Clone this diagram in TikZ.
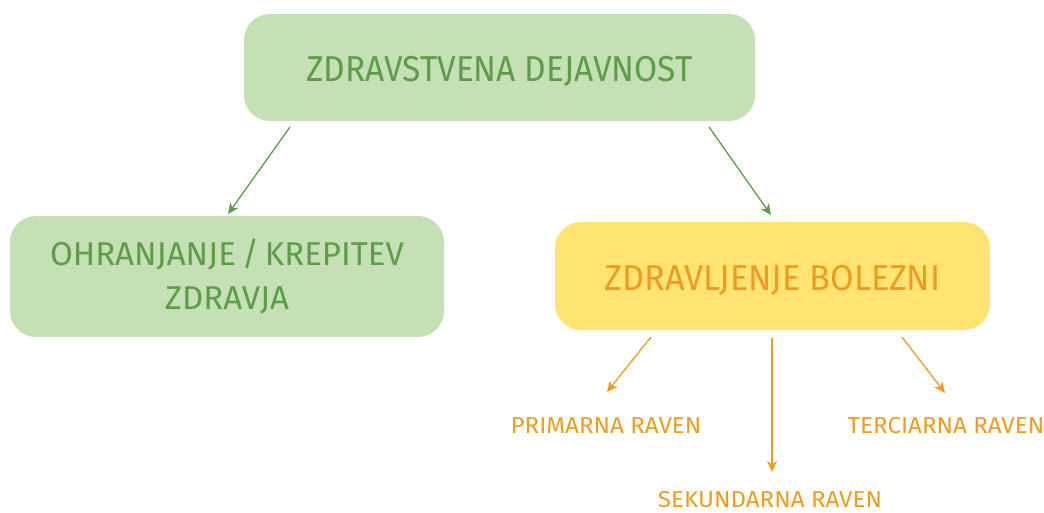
\documentclass[tikz,border=0pt]{standalone}
\usepackage{fontspec}
\setmainfont{Fira Sans}
\newfontfamily\fTop{Fira Sans}[FakeStretch=0.93]
\newfontfamily\fLeft{Fira Sans}[FakeStretch=1.0]
\newfontfamily\fRight{Fira Sans}[FakeStretch=0.95]
\newfontfamily\fLbl{Fira Sans}[FakeStretch=1.05]
\usetikzlibrary{arrows.meta}
\definecolor{gfill}{HTML}{C5E0B4}
\definecolor{gtext}{HTML}{5E9C4A}
\definecolor{yfill}{HTML}{FFE474}
\definecolor{otext}{HTML}{EE9B22}
\tikzset{
  box/.style={rounded corners=26pt, inner sep=0pt, align=center},
  gbox/.style={box, fill=gfill, text=gtext},
  ybox/.style={box, fill=yfill, text=otext},
  garrow/.style={draw=gtext, line width=1.3pt, -{Stealth[length=11pt,width=10pt,inset=3.5pt]}},
  oarrow/.style={draw=otext, line width=1.3pt, -{Stealth[length=11pt,width=10pt,inset=3.5pt]}},
  lbl/.style={text=otext, font=\fLbl\fontsize{23}{27}\selectfont, inner sep=0pt}
}
\begin{document}
\begin{tikzpicture}[x=1pt,y=-1pt]
\useasboundingbox (0,0) rectangle (1044,513);
\node[gbox, minimum width=511pt, minimum height=107pt, text height=29pt, text depth=0pt, font=\fTop\fontsize{36}{40}\selectfont] (top) at (499.5,67.5) {ZDRAVSTVENA DEJAVNOST};
\node[gbox, minimum width=434pt, minimum height=121pt, font=\fLeft\fontsize{33}{43.5}\selectfont] (left) at (227,276.5) {OHRANJANJE\hspace{0.18em}/\hspace{0.18em}KREPITEV\\ZDRAVJA};
\node[ybox, minimum width=435pt, minimum height=108pt, text height=28pt, text depth=0pt, font=\fRight\fontsize{36}{40}\selectfont] (right) at (772.5,276) {ZDRAVLJENJE BOLEZNI};
\node[lbl] (prim) at (606,426) {PRIMARNA RAVEN};
\node[lbl] (sek) at (770,500) {SEKUNDARNA RAVEN};
\node[lbl] (terc) at (946,426) {TERCIARNA RAVEN};
\coordinate (a1s) at (290,127); \coordinate (a1e) at (228,214);
\coordinate (a2s) at (709,127); \coordinate (a2e) at (771,215);
\coordinate (b1s) at (651,337); \coordinate (b1e) at (607,392);
\coordinate (b2s) at (772,338); \coordinate (b2e) at (772,472);
\coordinate (b3s) at (902,337); \coordinate (b3e) at (945,393);
\draw[garrow] (a1s) -- (a1e);
\draw[garrow] (a2s) -- (a2e);
\draw[oarrow] (b1s) -- (b1e);
\draw[oarrow] (b2s) -- (b2e);
\draw[oarrow] (b3s) -- (b3e);
\end{tikzpicture}
\end{document}
